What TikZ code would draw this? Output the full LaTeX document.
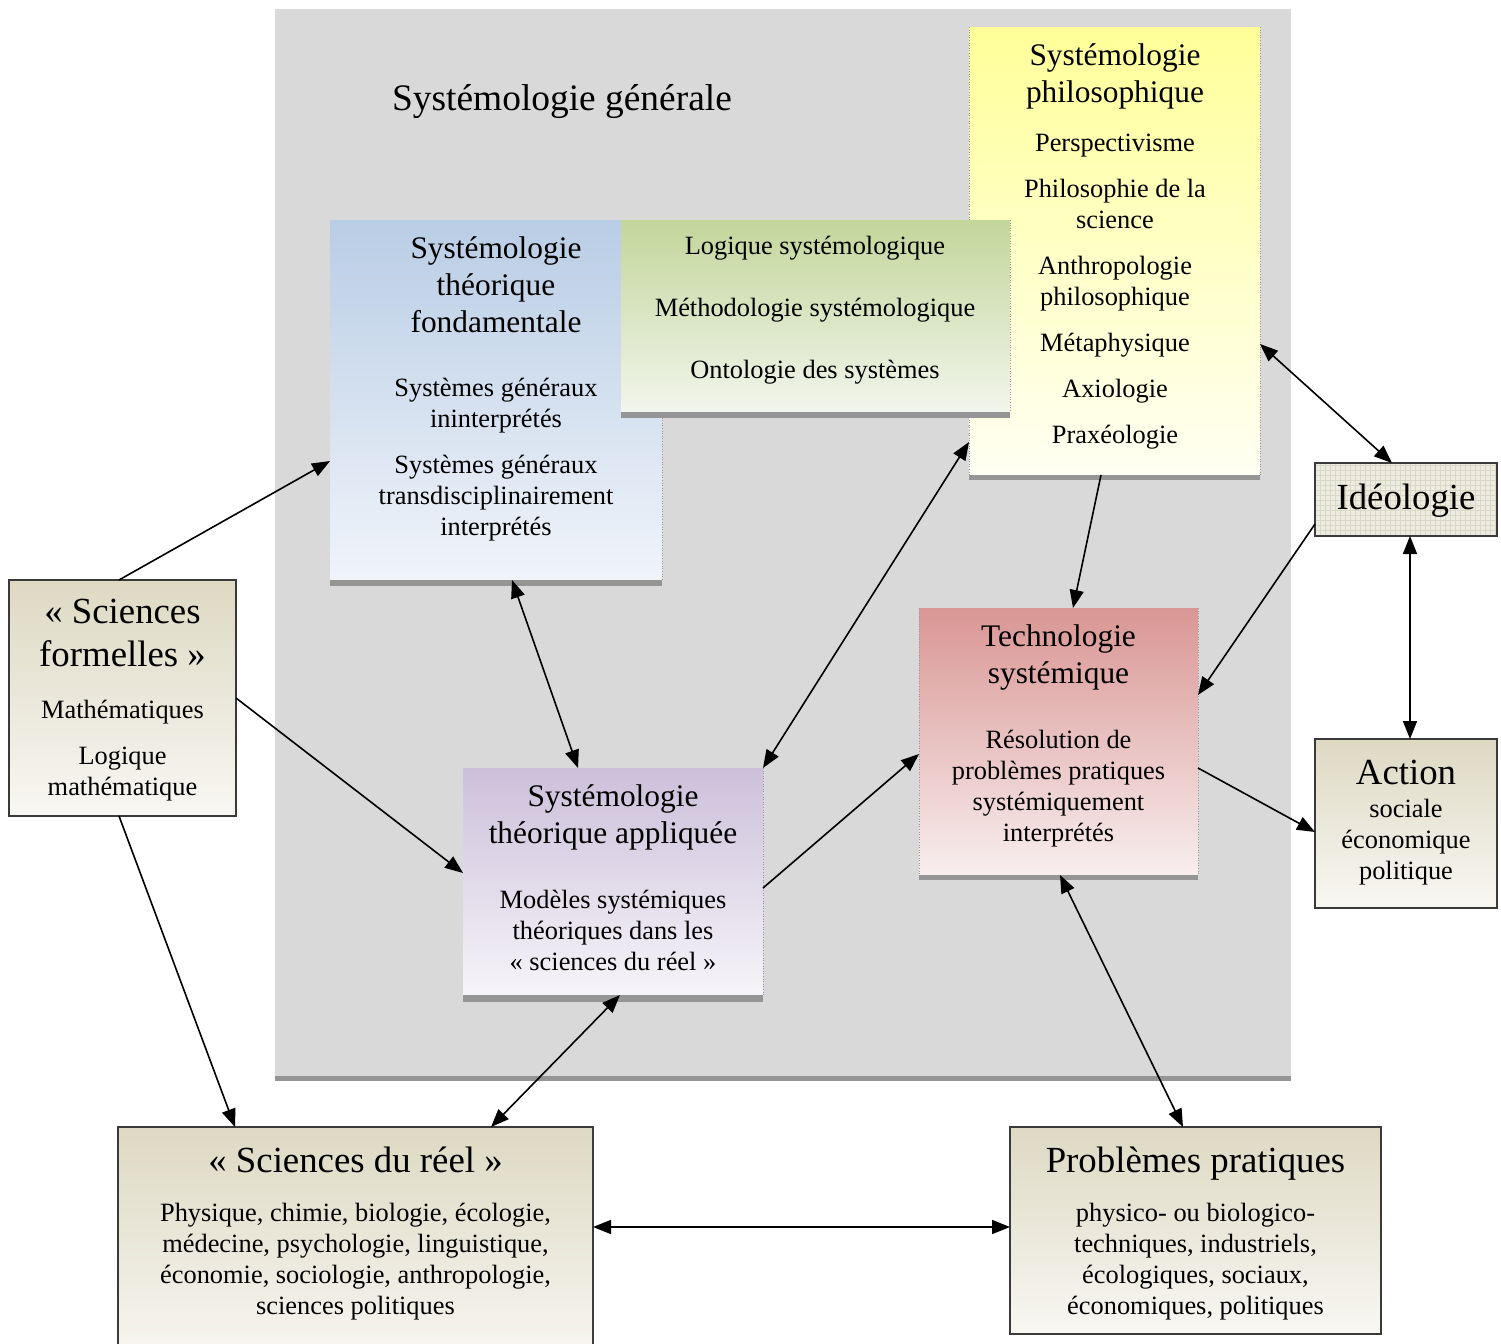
\documentclass[tikz,border=0pt]{standalone}
\usepackage{fontspec}
\setmainfont{Liberation Serif}
\usetikzlibrary{arrows.meta,calc}
\definecolor{bgray}{HTML}{D9D9D9}
\definecolor{shadowgray}{HTML}{959595}
\definecolor{boxline}{HTML}{3A3A3A}
\definecolor{blueT}{HTML}{B9CDE5}\definecolor{blueB}{HTML}{F0F4FA}
\definecolor{greenT}{HTML}{C3D69B}\definecolor{greenB}{HTML}{F2F5EC}
\definecolor{yellowT}{HTML}{FFFF99}\definecolor{yellowB}{HTML}{FFFFF3}
\definecolor{redT}{HTML}{D99694}\definecolor{redB}{HTML}{F8EEEE}
\definecolor{purpleT}{HTML}{CCC0DA}\definecolor{purpleB}{HTML}{F6F4F9}
\definecolor{tanT}{HTML}{DDD9C3}\definecolor{tanB}{HTML}{F8F7F2}
\definecolor{ideoFill}{HTML}{EEECE1}\definecolor{ideoGrid}{HTML}{DAD7C6}
\begin{document}
\begin{tikzpicture}[x=0.5pt,y=-0.5pt,
  box/.style={rectangle,inner sep=0pt,outer sep=0pt,anchor=north west},
  inbox/.style={box},
  outbox/.style={box,draw=boxline,line width=0.7pt,top color=tanT,bottom color=tanB},
  sideline/.style={draw=gray!80,densely dotted,line width=0.3pt},
  ttl/.style={anchor=north,inner sep=0pt,align=center,font=\fontsize{15.7}{18.5}\selectfont,execute at begin node=\strut},
  bigttl/.style={anchor=north,inner sep=0pt,align=center,font=\fontsize{18.4}{21.5}\selectfont,execute at begin node=\strut},
  bodytxt/.style={anchor=north,inner sep=0pt,align=center,font=\fontsize{13.2}{15.5}\selectfont,execute at begin node=\strut},
  conn/.style={line width=0.8pt,-{Triangle[length=9pt,width=7pt]}},
  biconn/.style={line width=0.8pt,{Triangle[length=9pt,width=7pt]}-{Triangle[length=9pt,width=7pt]}},
]
\clip (0,0) rectangle (1501,1344);
\fill[white] (0,0) rectangle (1501,1344);
% background panel
\fill[bgray] (275,9) rectangle (1291,1076);
\fill[shadowgray] (275,1076) rectangle (1291,1081);
\node[anchor=base,inner sep=0pt,font=\fontsize{18.7}{22}\selectfont] (gen) at (562,110) {Systémologie générale};

% yellow
\node[inbox,top color=yellowT,bottom color=yellowB,minimum width=145.5pt,minimum height=224pt] (yel) at (969,27) {};
\fill[shadowgray] (yel.south west) rectangle ++(291,5);
\draw[sideline] (yel.north west) -- (yel.south west);
\draw[sideline] (yel.north east) -- (yel.south east);
% blue
\node[inbox,top color=blueT,bottom color=blueB,minimum width=166pt,minimum height=180pt] (blu) at (330,220) {};
\fill[shadowgray] (blu.south west) rectangle ++(332,6);
\draw[sideline] (blu.north east) -- (blu.south east);
% green
\node[inbox,top color=greenT,bottom color=greenB,minimum width=194.5pt,minimum height=96pt] (grn) at (621,220) {};
\fill[shadowgray] (grn.south west) rectangle ++(389,6);
\draw[sideline] (grn.north east) -- (grn.south east);
% red
\node[inbox,top color=redT,bottom color=redB,minimum width=139.5pt,minimum height=133.5pt] (red) at (919,608) {};
\fill[shadowgray] (red.south west) rectangle ++(279,5);
\draw[sideline] (red.north west) -- (red.south west);
\draw[sideline] (red.north east) -- (red.south east);
% purple
\node[inbox,top color=purpleT,bottom color=purpleB,minimum width=150pt,minimum height=113.5pt] (pur) at (463,768) {};
\fill[shadowgray] (pur.south west) rectangle ++(300,7);
\draw[sideline] (pur.north east) -- (pur.south east);

% outer boxes
\node[outbox,minimum width=113.5pt,minimum height=118pt] (sf) at (9,580) {};
\node[box,draw=boxline,line width=0.7pt,fill=ideoFill,minimum width=91pt,minimum height=36.5pt] (ideo) at (1315,463) {};
\begin{scope}
\clip (ideo.south west) rectangle (ideo.north east);
\draw[ideoGrid,line width=0.25pt,step=2.5pt] (ideo.south west) grid (ideo.north east);
\end{scope}
\draw[boxline,line width=0.7pt] (ideo.south west) rectangle (ideo.north east);
\node[outbox,minimum width=91pt,minimum height=84.5pt] (act) at (1315,739) {};
\node[outbox,minimum width=237.5pt,minimum height=120pt] (sdr) at (118,1127) {};
\node[outbox,minimum width=185.5pt,minimum height=103.5pt] (prob) at (1010,1127) {};

% texts
\node[ttl] (yelT) at (1115,43) {Systémologie\\philosophique};
\node[bodytxt] (yelB) at (1115,134) {Perspectivisme\\[7.5pt]Philosophie de la\\science\\[7.5pt]Anthropologie\\philosophique\\[7.5pt]Métaphysique\\[7.5pt]Axiologie\\[7.5pt]Praxéologie};
\node[ttl] (bluT) at (496,236) {Systémologie\\théorique\\fondamentale};
\node[bodytxt] (bluB) at (496,378) {Systèmes généraux\\ininterprétés\\[7.5pt]Systèmes généraux\\transdisciplinairement\\interprétés};
\node[bodytxt] (grnB) at (815,236) {Logique systémologique\\[15.5pt]Méthodologie systémologique\\[15.5pt]Ontologie des systèmes};
\node[ttl] (redT) at (1058.5,624) {Technologie\\systémique};
\node[bodytxt] (redB) at (1058.5,730) {Résolution de\\problèmes pratiques\\systémiquement\\interprétés};
\node[ttl] (purT) at (613,784) {Systémologie\\théorique appliquée};
\node[bodytxt] (purB) at (613,890) {Modèles systémiques\\théoriques dans les\\« sciences du réel »};
\node[bigttl] (sfT) at (122.5,599) {« Sciences\\formelles »};
\node[bodytxt] (sfB) at (122.5,700) {Mathématiques\\[7.5pt]Logique\\mathématique};
\node[bigttl] (ideoT) at (1406,479) {Idéologie};
\node[bigttl] (actT) at (1406,754) {Action};
\node[bodytxt] (actB) at (1406,799) {sociale\\économique\\politique};
\node[bigttl] (sdrT) at (355.5,1142) {« Sciences du réel »};
\node[bodytxt] (sdrB) at (355.5,1203) {Physique, chimie, biologie, écologie,\\médecine, psychologie, linguistique,\\économie, sociologie, anthropologie,\\sciences politiques};
\node[bigttl] (probT) at (1195.5,1142) {Problèmes pratiques};
\node[bodytxt] (probB) at (1195.5,1203) {physico- ou biologico-\\techniques, industriels,\\écologiques, sociaux,\\économiques, politiques};

% connectors
\draw[conn] ([xshift=-1.75pt]sf.north) -- ([yshift=-30.5pt]blu.west);
\draw[conn] (sf.east) -- ([yshift=4.25pt]pur.west);
\draw[conn] ([xshift=-1.75pt]sf.south) -- ([xshift=-60.25pt]sdr.north);
\draw[biconn] ([xshift=8pt]blu.south) -- ([xshift=-17.5pt]pur.north);
\draw[biconn] ([yshift=-95.5pt]yel.west) -- (pur.north east);
\draw[conn] ([xshift=-6.75pt]yel.south) -- ([xshift=7.25pt]red.north);
\draw[biconn] ([yshift=-46.5pt]yel.east) -- ([xshift=-7pt]ideo.north);
\draw[conn] ([yshift=-12.25pt]ideo.west) -- ([yshift=23.25pt]red.east);
\draw[biconn] ([xshift=2pt]ideo.south) -- ([xshift=2pt]act.north);
\draw[conn] ([yshift=-13.25pt]red.east) -- ([yshift=-4.25pt]act.west);
\draw[conn] ([yshift=-3.25pt]pur.east) -- ([yshift=-6.25pt]red.west);
\draw[biconn] ([xshift=0.75pt]red.south) -- ([xshift=-6.25pt]prob.north);
\draw[biconn] ([xshift=3.5pt]pur.south) -- ([xshift=67.75pt]sdr.north);
\coordinate (pl) at ([yshift=1.75pt]prob.west);
\draw[biconn] (sdr.east |- pl) -- (pl);
\end{tikzpicture}
\end{document}
